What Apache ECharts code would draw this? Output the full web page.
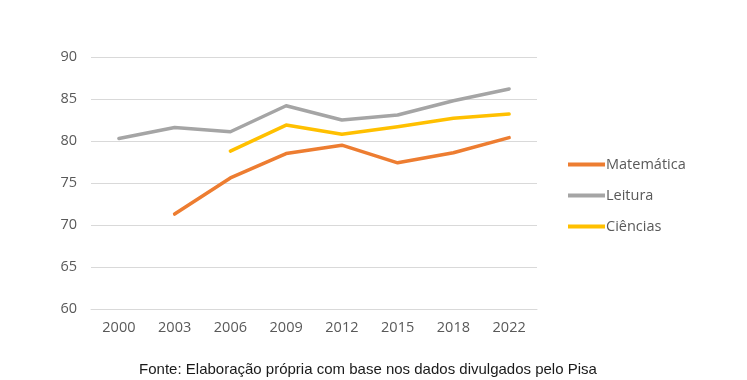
<!DOCTYPE html>
<html>
<head>
<meta charset="utf-8">
<script src="https://cdn.jsdelivr.net/npm/echarts@6/dist/echarts.min.js"></script>
<style>
html,body{margin:0;padding:0;background:#fff;}
#c{width:747px;height:380px;}
</style>
</head>
<body>
<div id="c"></div>
<script>
const years = ['2000','2003','2006','2009','2012','2015','2018','2022'];
const matematica = [null, 71.3, 75.6, 78.5, 79.5, 77.4, 78.6, 80.4];
const leitura = [80.3, 81.6, 81.1, 84.2, 82.5, 83.1, 84.8, 86.2];
const ciencias = [null, null, 78.8, 81.9, 80.8, 81.7, 82.7, 83.2];
const sourceText = 'Fonte: Elaboração própria com base nos dados divulgados pelo Pisa';

const chart = echarts.init(document.getElementById('c'));
const tickFont = {color:'#595959', fontSize:14.5, fontFamily:'Open Sans'};
function line(name, data, color){
  return {name, type:'line', data, symbol:'none', connectNulls:false,
    lineStyle:{color, width:3.5, cap:'round', join:'round'}, itemStyle:{color}};
}
chart.setOption({
  animation:false,
  backgroundColor:'#fff',
  grid:{left:91, right:210, top:57, bottom:71},
  xAxis:{type:'category', data:years, boundaryGap:true,
    axisLine:{show:true, lineStyle:{color:'#d9d9d9', width:1}},
    axisTick:{show:false},
    axisLabel:Object.assign({margin:11}, tickFont)},
  yAxis:{type:'value', min:60, max:90, interval:5,
    axisLine:{show:false}, axisTick:{show:false},
    splitLine:{lineStyle:{color:'#d9d9d9', width:1}},
    axisLabel:Object.assign({margin:14}, tickFont)},
  legend:{orient:'vertical', left:563, top:152, itemGap:16, itemWidth:37, itemHeight:16,
    icon:'path://M0,7 L37,7 L37,11 L0,11 Z',
    textStyle:{color:'#595959', fontSize:14.5, fontFamily:'Open Sans', padding:[0,0,0,-4]},
    data:['Matemática','Leitura','Ciências']},
  title:{text:sourceText, left:363, top:357, textAlign:'center',
    textStyle:{fontFamily:'Liberation Sans', fontSize:15, fontWeight:'normal', color:'#1a1a1a'}},
  series:[
    line('Matemática', matematica, '#ED7D31'),
    line('Leitura', leitura, '#A5A5A5'),
    line('Ciências', ciencias, '#FFC000')
  ]
});
</script>
</body>
</html>
